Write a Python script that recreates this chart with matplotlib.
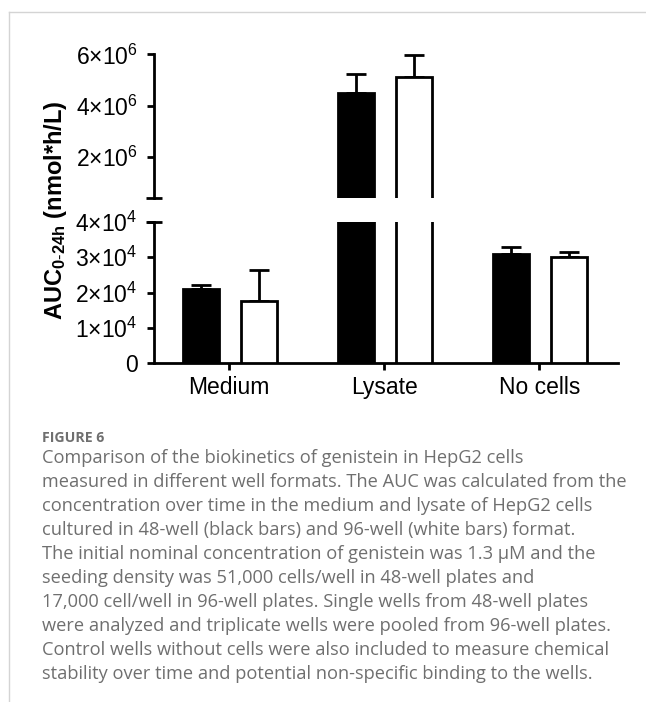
import matplotlib
matplotlib.use("Agg")
import matplotlib.pyplot as plt
from matplotlib.lines import Line2D
import numpy as np

# ---------------- data ----------------
categories = ["Medium", "Lysate", "No cells"]
well48 = [2.10e4, 4.50e6, 3.08e4]          # black bars
well48_err = [0.125e4, 0.73e6, 0.20e4]
well96 = [1.755e4, 5.13e6, 2.99e4]         # white bars
well96_err = [0.89e4, 0.84e6, 0.165e4]

upper_ticks = [2e6, 4e6, 6e6]
upper_ticklabels = [r"$2{\times}10^{6}$", r"$4{\times}10^{6}$", r"$6{\times}10^{6}$"]
lower_ticks = [0, 1e4, 2e4, 3e4, 4e4]
lower_ticklabels = ["0", r"$1{\times}10^{4}$", r"$2{\times}10^{4}$",
                    r"$3{\times}10^{4}$", r"$4{\times}10^{4}$"]
ylabel = r"$\mathbf{AUC}_{\mathbf{0\text{-}24h}}$ (nmol*h/L)"

caption_title = "FIGURE 6"
caption_lines = [
    "Comparison of the biokinetics of genistein in HepG2 cells",
    "measured in different well formats. The AUC was calculated from the",
    "concentration over time in the medium and lysate of HepG2 cells",
    "cultured in 48-well (black bars) and 96-well (white bars) format.",
    "The initial nominal concentration of genistein was 1.3 \u03bcM and the",
    "seeding density was 51,000 cells/well in 48-well plates and",
    "17,000 cell/well in 96-well plates. Single wells from 48-well plates",
    "were analyzed and triplicate wells were pooled from 96-well plates.",
    "Control wells without cells were also included to measure chemical",
    "stability over time and potential non-specific binding to the wells.",
]

# ---------------- style ----------------
plt.rcParams["font.family"] = ["Liberation Sans", "DejaVu Sans"]
plt.rcParams["mathtext.fontset"] = "custom"
plt.rcParams["mathtext.rm"] = "Liberation Sans"
plt.rcParams["mathtext.it"] = "Liberation Sans:italic"
plt.rcParams["mathtext.bf"] = "Liberation Sans:bold"

W, H = 646, 702
fig = plt.figure(figsize=(W / 100, H / 100), dpi=100)

LW = 2.0
FS = 16.5

def px_rect(x0, ytop, x1, ybot):
    return [x0 / W, 1 - ybot / H, (x1 - x0) / W, (ybot - ytop) / H]

ax_lo = fig.add_axes(px_rect(153.5, 221.7, 618, 363.3))
ax_hi = fig.add_axes(px_rect(153.5, 54.3, 618, 197.7))

x = np.arange(len(categories))
off_black, off_white = -0.181, 0.193
bw = 0.23
xlim = (-0.489, 2.508)

for ax in (ax_lo, ax_hi):
    ax.bar(x + off_black, well48, bw, color="black", edgecolor="black", linewidth=LW,
           zorder=3)
    ax.bar(x + off_white, well96, bw, color="white", edgecolor="black", linewidth=LW,
           zorder=3)
    ax.errorbar(x + off_black, well48, yerr=[np.zeros(3), well48_err], fmt="none",
                ecolor="black", elinewidth=LW, capsize=7, capthick=LW, zorder=2)
    ax.errorbar(x + off_white, well96, yerr=[np.zeros(3), well96_err], fmt="none",
                ecolor="black", elinewidth=LW, capsize=7, capthick=LW, zorder=2)
    ax.set_xlim(*xlim)
    for s in ("top", "right"):
        ax.spines[s].set_visible(False)
    ax.spines["left"].set_linewidth(LW)
    ax.spines["bottom"].set_linewidth(LW)
    ax.tick_params(axis="y", length=5, width=LW, pad=6.5, labelsize=FS)
    ax.patch.set_alpha(0)

# lower
ax_lo.set_ylim(0, 4e4)
ax_lo.set_yticks(lower_ticks)
ax_lo.set_yticklabels(lower_ticklabels)
ax_lo.set_xticks(x)
ax_lo.set_xticklabels(categories)
ax_lo.tick_params(axis="x", length=5, width=LW, pad=4, labelsize=FS)

# upper
ax_hi.set_ylim(0.415e6, 6e6)
ax_hi.set_yticks(upper_ticks)
ax_hi.set_yticklabels(upper_ticklabels)
ax_hi.spines["bottom"].set_visible(False)
ax_hi.set_xticks([])

# break caps
cap = 8 / 464.5
ax_hi.add_line(Line2D([-cap, cap], [0, 0], transform=ax_hi.transAxes, color="black",
                      lw=LW, clip_on=False, solid_capstyle="butt"))
ax_lo.add_line(Line2D([-cap, cap], [1, 1], transform=ax_lo.transAxes, color="black",
                      lw=LW, clip_on=False, solid_capstyle="butt"))

# y label
fig.text(55.5 / W, 1 - 210 / H, ylabel, rotation=90, ha="center", va="center",
         fontsize=17, fontweight="bold")

# frame lines
fig.add_artist(Line2D([9.3 / W, 1], [1 - 11.7 / H, 1 - 11.7 / H],
                      transform=fig.transFigure, color="#d4d4d4", lw=1))
fig.add_artist(Line2D([9.3 / W, 9.3 / W], [0, 1 - 11.7 / H],
                      transform=fig.transFigure, color="#d4d4d4", lw=1))

# caption
cap_color = "#6f6f6f"
cap_font = ["Open Sans", "DejaVu Sans"]
fig.text(41.7 / W, 1 - 441.7 / H, caption_title, fontsize=10.2, fontweight="bold",
         color=cap_color, family=cap_font, va="baseline", ha="left")

# fit caption font size so the second line spans ~584 px
renderer = fig.canvas.get_renderer()
probe = fig.text(0, 0, caption_lines[1], fontsize=12, family=cap_font)
wpx = probe.get_window_extent(renderer=renderer).width
probe.remove()
cap_fs = 12 * 584.0 / wpx

for i, line in enumerate(caption_lines):
    fig.text(41.7 / W, 1 - (462.7 + 24 * i) / H, line, fontsize=cap_fs,
             color=cap_color, family=cap_font, va="baseline", ha="left")

fig.savefig("out.png", dpi=100)
